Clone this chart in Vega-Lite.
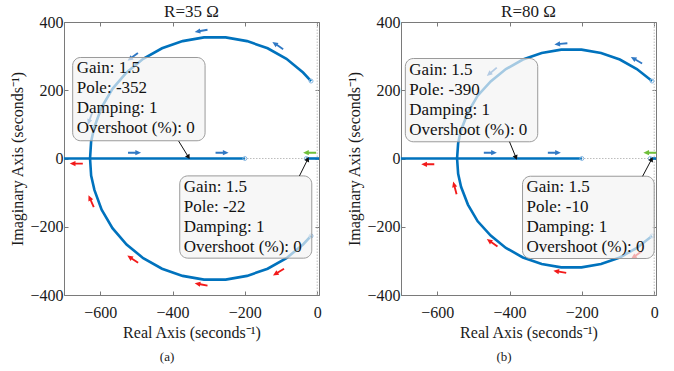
{
  "$schema": "https://vega.github.io/schema/vega-lite/v6.json",
  "background": "white",
  "padding": {"left": 9, "top": 2, "right": 4, "bottom": 2},
  "config": {
    "font": "Liberation Serif",
    "mark": {"font": "Liberation Serif"},
    "text": {"font": "Liberation Serif"},
    "view": {"stroke": "#7a7a7a", "strokeWidth": 1},
    "axis": {
      "labelFont": "Liberation Serif", "labelFontSize": 16, "labelColor": "#1a1a1a",
      "titleFont": "Liberation Serif", "titleFontSize": 16, "titleFontWeight": "normal", "titleColor": "#1a1a1a",
      "domainColor": "#7a7a7a", "tickColor": "#7a7a7a", "grid": false, "tickSize": -4
    },
    "axisX": {"labelPadding": 13},
    "axisY": {"labelPadding": 5},
    "title": {"font": "Liberation Serif", "fontWeight": "normal", "color": "#1a1a1a"},
    "concat": {"spacing": 21}
  },
  "datasets": {
    "grid": [{"x": -700, "y": 0, "x2": 5, "y2": 0}, {"x": 0, "y": -400, "x2": 0, "y2": 400}],
    "c35": [
      {"b": "u", "x": -17, "y": 227}, {"b": "u", "x": -39, "y": 252}, {"b": "u", "x": -85, "y": 292}, {"b": "u", "x": -137, "y": 323}, {"b": "u", "x": -194, "y": 344}, {"b": "u", "x": -253, "y": 355}, {"b": "u", "x": -313, "y": 355}, {"b": "u", "x": -372, "y": 344}, {"b": "u", "x": -429, "y": 323}, {"b": "u", "x": -481, "y": 292}, {"b": "u", "x": -527, "y": 252}, {"b": "u", "x": -566, "y": 204}, {"b": "u", "x": -596, "y": 150}, {"b": "u", "x": -616, "y": 92}, {"b": "u", "x": -625, "y": 50}, {"b": "u", "x": -628, "y": 0},
      {"b": "l", "x": -17, "y": -227}, {"b": "l", "x": -39, "y": -252}, {"b": "l", "x": -85, "y": -292}, {"b": "l", "x": -137, "y": -323}, {"b": "l", "x": -194, "y": -344}, {"b": "l", "x": -253, "y": -355}, {"b": "l", "x": -313, "y": -355}, {"b": "l", "x": -372, "y": -344}, {"b": "l", "x": -429, "y": -323}, {"b": "l", "x": -481, "y": -292}, {"b": "l", "x": -527, "y": -252}, {"b": "l", "x": -566, "y": -204}, {"b": "l", "x": -596, "y": -150}, {"b": "l", "x": -616, "y": -92}, {"b": "l", "x": -625, "y": -50}, {"b": "l", "x": -628, "y": 0},
      {"b": "r", "x": -700, "y": 0}, {"b": "r", "x": -200, "y": 0},
      {"b": "s", "x": -30, "y": 0}, {"b": "s", "x": 5, "y": 0}
    ],
    "c80": [
      {"b": "u", "x": -6, "y": 227}, {"b": "u", "x": -48, "y": 262}, {"b": "u", "x": -95, "y": 290}, {"b": "u", "x": -147, "y": 309}, {"b": "u", "x": -201, "y": 319}, {"b": "u", "x": -257, "y": 319}, {"b": "u", "x": -311, "y": 309}, {"b": "u", "x": -363, "y": 290}, {"b": "u", "x": -410, "y": 262}, {"b": "u", "x": -452, "y": 226}, {"b": "u", "x": -488, "y": 184}, {"b": "u", "x": -515, "y": 135}, {"b": "u", "x": -534, "y": 83}, {"b": "u", "x": -542, "y": 45}, {"b": "u", "x": -545, "y": 0},
      {"b": "l", "x": -6, "y": -227}, {"b": "l", "x": -48, "y": -262}, {"b": "l", "x": -95, "y": -290}, {"b": "l", "x": -147, "y": -309}, {"b": "l", "x": -201, "y": -319}, {"b": "l", "x": -257, "y": -319}, {"b": "l", "x": -311, "y": -309}, {"b": "l", "x": -363, "y": -290}, {"b": "l", "x": -410, "y": -262}, {"b": "l", "x": -452, "y": -226}, {"b": "l", "x": -488, "y": -184}, {"b": "l", "x": -515, "y": -135}, {"b": "l", "x": -534, "y": -83}, {"b": "l", "x": -542, "y": -45}, {"b": "l", "x": -545, "y": 0},
      {"b": "r", "x": -700, "y": 0}, {"b": "r", "x": -200, "y": 0},
      {"b": "s", "x": -11, "y": 0}, {"b": "s", "x": 5, "y": 0}
    ],
    "a35": [
      {"x": -109, "y": 331, "a": 304, "c": "b"}, {"x": -321, "y": 374, "a": 260, "c": "b"}, {"x": -510, "y": 298, "a": 233, "c": "b"}, {"x": -628, "y": 117, "a": 200, "c": "b"},
      {"x": -505, "y": 17, "a": 90, "c": "b"}, {"x": -263, "y": 17, "a": 90, "c": "b"}, {"x": -21, "y": 17, "a": 270, "c": "g"},
      {"x": -666, "y": -15, "a": 270, "c": "r"}, {"x": -625, "y": -125, "a": 336, "c": "r"}, {"x": -510, "y": -295, "a": 304, "c": "r"}, {"x": -321, "y": -369, "a": 280, "c": "r"}, {"x": -107, "y": -333, "a": 238, "c": "r"}
    ],
    "a80": [
      {"x": -49, "y": 288, "a": 300, "c": "b"}, {"x": -258, "y": 336, "a": 265, "c": "b"}, {"x": -449, "y": 254, "a": 230, "c": "b"},
      {"x": -453, "y": 17, "a": 90, "c": "b"}, {"x": -276, "y": 17, "a": 90, "c": "b"}, {"x": -12, "y": 17, "a": 270, "c": "g"},
      {"x": -626, "y": -17, "a": 270, "c": "r"}, {"x": -551, "y": -86, "a": 345, "c": "r"}, {"x": -448, "y": -247, "a": 305, "c": "r"}, {"x": -261, "y": -332, "a": 280, "c": "r"}, {"x": -49, "y": -283, "a": 235, "c": "r"}
    ],
    "m35": [{"x": -200, "y": 0}, {"x": -30, "y": 0}, {"x": -17, "y": 227}, {"x": -17, "y": -227}],
    "m80": [{"x": -200, "y": 0}, {"x": -11, "y": 0}, {"x": -6, "y": 227}, {"x": -6, "y": -227}],
    "t35": [
      {"x": -676, "xe": -310, "y": 296, "ye": 52, "t": "Gain: 1.5\nPole: -352\nDamping: 1\nOvershoot (%): 0", "ax": -383, "ay": 51, "bx": -357, "by": 6, "ang": 149},
      {"x": -380, "xe": -15, "y": -51, "ye": -292, "t": "Gain: 1.5\nPole: -22\nDamping: 1\nOvershoot (%): 0", "ax": -49, "ay": -51, "bx": -27, "by": -4, "ang": 26}
    ],
    "t80": [
      {"x": -688, "xe": -322, "y": 293, "ye": 49, "t": "Gain: 1.5\nPole: -390\nDamping: 1\nOvershoot (%): 0", "ax": -400, "ay": 49, "bx": -383, "by": 5, "ang": 158},
      {"x": -364, "xe": 0, "y": -52, "ye": -293, "t": "Gain: 1.5\nPole: -10\nDamping: 1\nOvershoot (%): 0", "ax": -32, "ay": -52, "bx": -8, "by": -4, "ang": 28}
    ]
  },
  "hconcat": [
    {
      "title": {"text": "(a)", "orient": "bottom", "anchor": "middle", "fontSize": 13, "offset": 10},
      "vconcat": [
        {
          "width": 255, "height": 273,
          "title": {"text": "R=35 Ω", "fontSize": 17, "offset": -6.5},
          "resolve": {"axis": {"x": "independent", "y": "independent"}},
          "encoding": {
            "x": {"field": "x", "type": "quantitative", "scale": {"domain": [-700, 5], "nice": false, "zero": false}, "axis": null},
            "y": {"field": "y", "type": "quantitative", "scale": {"domain": [-400, 400], "nice": false, "zero": false}, "axis": null}
          },
          "layer": [
            {
              "data": {"name": "grid"},
              "mark": {"type": "rule", "color": "#bdbdbd", "strokeWidth": 1, "strokeDash": [1.5, 1.5]},
              "encoding": {
                "x": {"field": "x", "type": "quantitative", "scale": {"domain": [-700, 5], "nice": false, "zero": false}, "axis": {"orient": "bottom", "values": [-600, -400, -200, 0], "title": "Real Axis (seconds⁻¹)", "titlePadding": 4}},
                "y": {"field": "y", "type": "quantitative", "scale": {"domain": [-400, 400], "nice": false, "zero": false}, "axis": {"orient": "left", "values": [-400, -200, 0, 200, 400], "title": "Imaginary Axis (seconds⁻¹)", "titlePadding": 4}},
                "x2": {"field": "x2"}, "y2": {"field": "y2"}
              }
            },
            {
              "data": {"name": "c35"},
              "mark": {"type": "line", "color": "#0072BD", "strokeWidth": 2.6},
              "encoding": {
                "x": {"field": "x", "type": "quantitative", "scale": {"domain": [-700, 5], "nice": false, "zero": false}, "axis": {"orient": "top", "values": [-600, -400, -200, 0], "labels": false, "title": null, "domain": false, "minExtent": 0, "maxExtent": 0, "labelPadding": 0}},
                "y": {"field": "y", "type": "quantitative", "scale": {"domain": [-400, 400], "nice": false, "zero": false}, "axis": {"orient": "right", "values": [-400, -200, 0, 200, 400], "labels": false, "title": null, "domain": false, "minExtent": 0, "maxExtent": 0, "labelPadding": 0}},
                "detail": {"field": "b"}
              }
            },
            {
              "data": {"name": "a35"},
              "mark": {"type": "point", "shape": "arrow", "filled": true, "size": 170, "opacity": 1, "strokeWidth": 0},
              "encoding": {
                "angle": {"field": "a", "type": "quantitative", "scale": null},
                "color": {"field": "c", "type": "nominal", "scale": {"domain": ["b", "r", "g"], "range": ["#2f78c4", "#f21a1a", "#6fbf3a"]}, "legend": null}
              }
            },
            {
              "data": {"name": "m35"},
              "mark": {"type": "point", "shape": "circle", "filled": false, "size": 16, "color": "#8ab8e2", "strokeWidth": 1, "opacity": 1}
            },
            {
              "data": {"name": "t35"},
              "mark": {"type": "rect", "fill": "#f3f3f3", "fillOpacity": 0.68, "stroke": "#9a9a9a", "strokeWidth": 1, "cornerRadius": 8},
              "encoding": {"x2": {"field": "xe"}, "y2": {"field": "ye"}}
            },
            {
              "data": {"name": "t35"},
              "mark": {"type": "text", "align": "left", "baseline": "top", "dx": 4, "dy": 3, "fontSize": 17, "lineHeight": 20, "lineBreak": "\n", "color": "#111", "font": "Liberation Serif"},
              "encoding": {"text": {"field": "t"}}
            },
            {
              "data": {"name": "t35"},
              "mark": {"type": "rule", "color": "#111", "strokeWidth": 1},
              "encoding": {"x": {"field": "ax", "type": "quantitative"}, "y": {"field": "ay", "type": "quantitative"}, "x2": {"field": "bx"}, "y2": {"field": "by"}}
            },
            {
              "data": {"name": "t35"},
              "mark": {"type": "point", "shape": "triangle", "filled": true, "size": 28, "color": "#111", "opacity": 1},
              "encoding": {"x": {"field": "bx", "type": "quantitative"}, "y": {"field": "by", "type": "quantitative"}, "angle": {"field": "ang", "type": "quantitative", "scale": null}}
            }
          ]
        }
      ]
    },
    {
      "title": {"text": "(b)", "orient": "bottom", "anchor": "middle", "fontSize": 13, "offset": 10},
      "vconcat": [
        {
          "width": 255, "height": 273,
          "title": {"text": "R=80 Ω", "fontSize": 17, "offset": -6.5},
          "resolve": {"axis": {"x": "independent", "y": "independent"}},
          "encoding": {
            "x": {"field": "x", "type": "quantitative", "scale": {"domain": [-700, 5], "nice": false, "zero": false}, "axis": null},
            "y": {"field": "y", "type": "quantitative", "scale": {"domain": [-400, 400], "nice": false, "zero": false}, "axis": null}
          },
          "layer": [
            {
              "data": {"name": "grid"},
              "mark": {"type": "rule", "color": "#bdbdbd", "strokeWidth": 1, "strokeDash": [1.5, 1.5]},
              "encoding": {
                "x": {"field": "x", "type": "quantitative", "scale": {"domain": [-700, 5], "nice": false, "zero": false}, "axis": {"orient": "bottom", "values": [-600, -400, -200, 0], "title": "Real Axis (seconds⁻¹)", "titlePadding": 4}},
                "y": {"field": "y", "type": "quantitative", "scale": {"domain": [-400, 400], "nice": false, "zero": false}, "axis": {"orient": "left", "values": [-400, -200, 0, 200, 400], "title": "Imaginary Axis (seconds⁻¹)", "titlePadding": 4}},
                "x2": {"field": "x2"}, "y2": {"field": "y2"}
              }
            },
            {
              "data": {"name": "c80"},
              "mark": {"type": "line", "color": "#0072BD", "strokeWidth": 2.6},
              "encoding": {
                "x": {"field": "x", "type": "quantitative", "scale": {"domain": [-700, 5], "nice": false, "zero": false}, "axis": {"orient": "top", "values": [-600, -400, -200, 0], "labels": false, "title": null, "domain": false, "minExtent": 0, "maxExtent": 0, "labelPadding": 0}},
                "y": {"field": "y", "type": "quantitative", "scale": {"domain": [-400, 400], "nice": false, "zero": false}, "axis": {"orient": "right", "values": [-400, -200, 0, 200, 400], "labels": false, "title": null, "domain": false, "minExtent": 0, "maxExtent": 0, "labelPadding": 0}},
                "detail": {"field": "b"}
              }
            },
            {
              "data": {"name": "a80"},
              "mark": {"type": "point", "shape": "arrow", "filled": true, "size": 170, "opacity": 1, "strokeWidth": 0},
              "encoding": {
                "angle": {"field": "a", "type": "quantitative", "scale": null},
                "color": {"field": "c", "type": "nominal", "scale": {"domain": ["b", "r", "g"], "range": ["#2f78c4", "#f21a1a", "#6fbf3a"]}, "legend": null}
              }
            },
            {
              "data": {"name": "m80"},
              "mark": {"type": "point", "shape": "circle", "filled": false, "size": 16, "color": "#8ab8e2", "strokeWidth": 1, "opacity": 1}
            },
            {
              "data": {"name": "t80"},
              "mark": {"type": "rect", "fill": "#f3f3f3", "fillOpacity": 0.68, "stroke": "#9a9a9a", "strokeWidth": 1, "cornerRadius": 8},
              "encoding": {"x2": {"field": "xe"}, "y2": {"field": "ye"}}
            },
            {
              "data": {"name": "t80"},
              "mark": {"type": "text", "align": "left", "baseline": "top", "dx": 4, "dy": 3, "fontSize": 17, "lineHeight": 20, "lineBreak": "\n", "color": "#111", "font": "Liberation Serif"},
              "encoding": {"text": {"field": "t"}}
            },
            {
              "data": {"name": "t80"},
              "mark": {"type": "rule", "color": "#111", "strokeWidth": 1},
              "encoding": {"x": {"field": "ax", "type": "quantitative"}, "y": {"field": "ay", "type": "quantitative"}, "x2": {"field": "bx"}, "y2": {"field": "by"}}
            },
            {
              "data": {"name": "t80"},
              "mark": {"type": "point", "shape": "triangle", "filled": true, "size": 28, "color": "#111", "opacity": 1},
              "encoding": {"x": {"field": "bx", "type": "quantitative"}, "y": {"field": "by", "type": "quantitative"}, "angle": {"field": "ang", "type": "quantitative", "scale": null}}
            }
          ]
        }
      ]
    }
  ]
}
